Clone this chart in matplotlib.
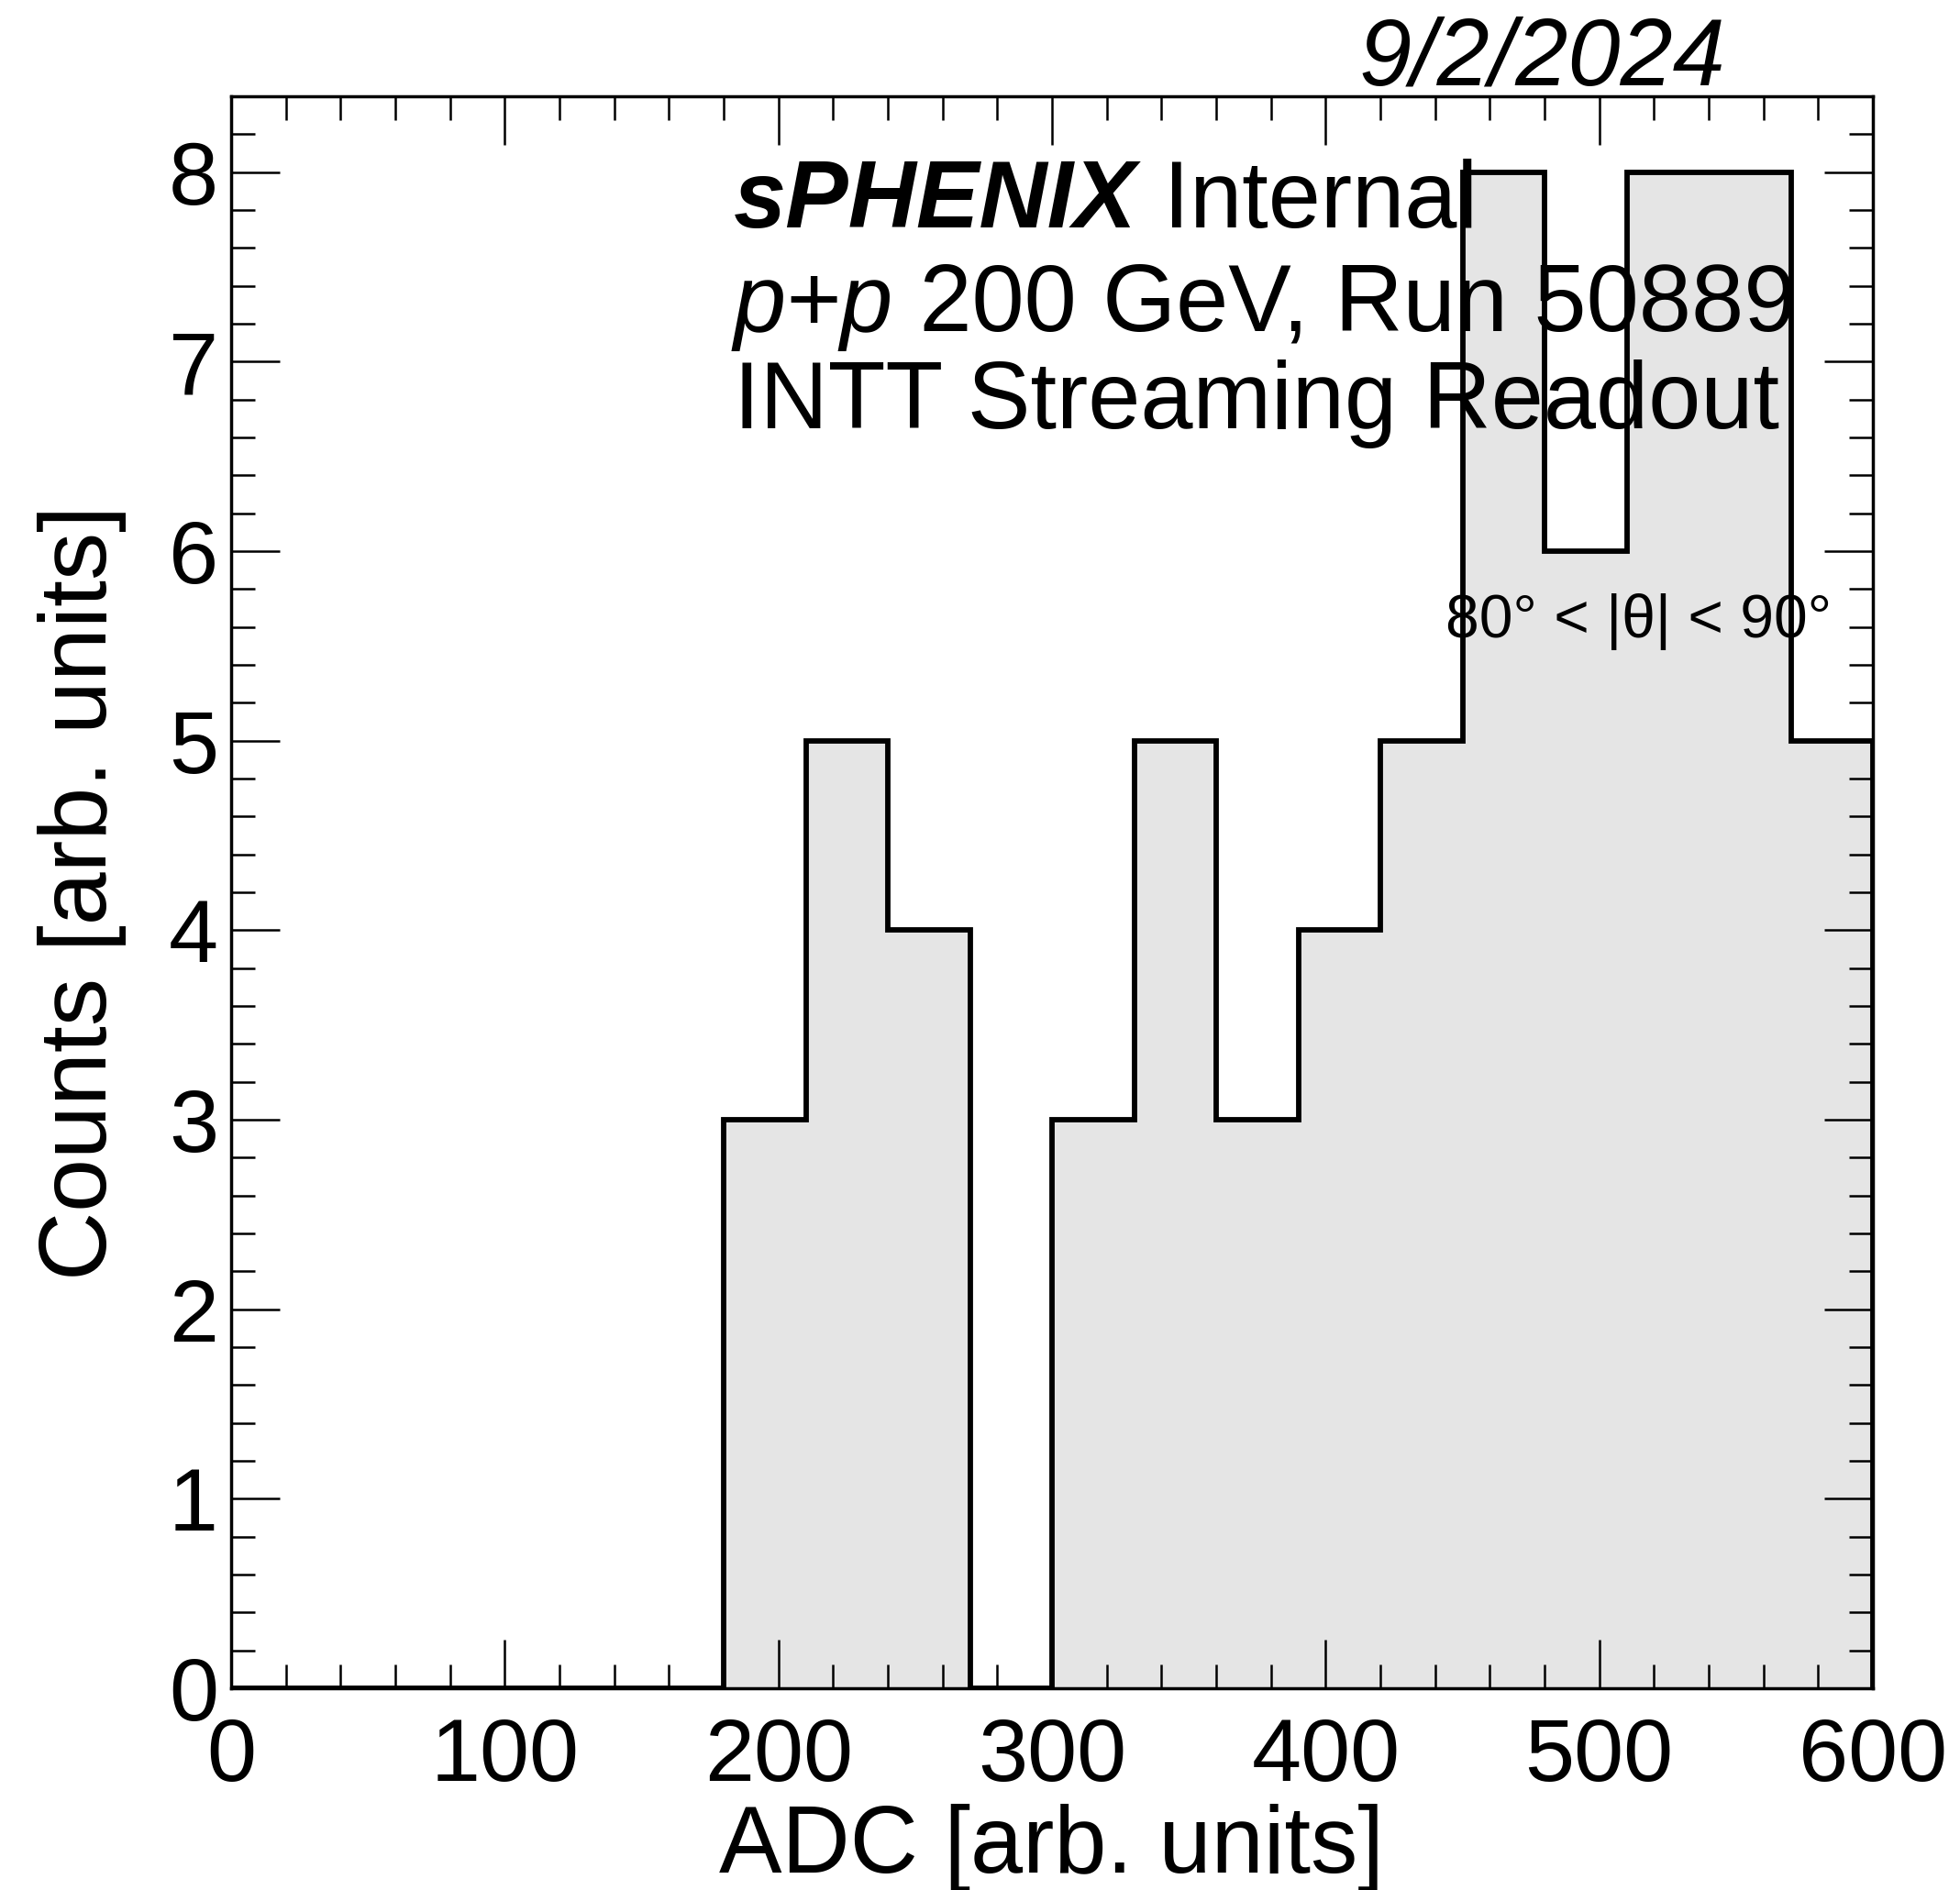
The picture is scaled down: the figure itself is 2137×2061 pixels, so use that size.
import matplotlib
matplotlib.use("Agg")
import matplotlib.pyplot as plt
from matplotlib.ticker import MultipleLocator

# ---- data ----
bin_edges = [0, 30, 60, 90, 120, 150, 180, 210, 240, 270, 300,
             330, 360, 390, 420, 450, 480, 510, 540, 570, 600]
counts = [0, 0, 0, 0, 0, 0, 3, 5, 4, 0, 3, 5, 3, 4, 5, 8, 6, 8, 8, 5]
x_label = "ADC [arb. units]"
y_label = "Counts [arb. units]"
date_text = "9/2/2024"
theta_text = "80° < |θ| < 90°"

W, H = 2137, 2061
DPI = 100
plt.rcParams['font.family'] = ['Liberation Sans', 'DejaVu Sans']

fig = plt.figure(figsize=(W / DPI, H / DPI), dpi=DPI)
L, R, T, B = 252, 2042, 105, 1841
ax = fig.add_axes([L / W, 1 - B / H, (R - L) / W, (B - T) / H])

ax.stairs(counts, bin_edges, fill=True, facecolor='#e5e5e5', edgecolor='none', baseline=0)
ax.stairs(counts, bin_edges, color='black', linewidth=4.2, baseline=0)

ax.set_xlim(0, 600)
ax.set_ylim(0, 8.4)
ax.xaxis.set_major_locator(MultipleLocator(100))
ax.xaxis.set_minor_locator(MultipleLocator(20))
ax.yaxis.set_major_locator(MultipleLocator(1))
ax.yaxis.set_minor_locator(MultipleLocator(0.2))

for s in ax.spines.values():
    s.set_linewidth(2.5)
ax.tick_params(which='both', direction='in', top=True, right=True, width=1.8, colors='black')
ax.tick_params(which='major', length=38)
ax.tick_params(which='minor', length=19)
ax.tick_params(axis='x', which='major', labelsize=70, pad=22)
ax.tick_params(axis='y', which='major', labelsize=70, pad=10)

ax.set_xlabel(x_label, fontsize=74, labelpad=4)
ax.set_ylabel(y_label, fontsize=75, labelpad=33)


def fx(px):
    return px / W


def fy(py):
    return 1 - py / H


fig.canvas.draw()
renderer = fig.canvas.get_renderer()

FS = 74
# sPHENIX Internal
t1 = fig.text(fx(800), fy(248), "sPHENIX", fontsize=FS, fontweight='bold', fontstyle='italic', va='baseline', ha='left')
bb = t1.get_window_extent(renderer)
fig.text(bb.x1 / W, fy(248), " Internal", fontsize=FS, va='baseline', ha='left')

t2 = fig.text(fx(800), fy(361), "p+p", fontsize=FS, fontstyle='italic', va='baseline', ha='left')
bb = t2.get_window_extent(renderer)
fig.text(bb.x1 / W, fy(361), " 200 GeV, Run 50889", fontsize=FS, va='baseline', ha='left')

fig.text(fx(800), fy(467), "INTT Streaming Readout", fontsize=FS, va='baseline', ha='left')

fig.text(fx(1997), fy(695), theta_text, fontsize=47.5, va='baseline', ha='right')
fig.text(fx(1481), fy(93), date_text, fontsize=74, fontstyle='italic', va='baseline', ha='left')

fig.savefig("out.png", dpi=DPI)
